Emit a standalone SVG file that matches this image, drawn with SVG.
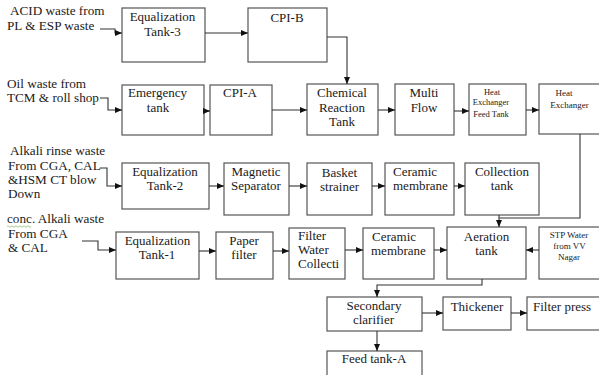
<svg xmlns="http://www.w3.org/2000/svg" width="599" height="375" viewBox="0 0 599 375">
<style>
text{font-family:'Liberation Serif','DejaVu Serif',serif}
.b{fill:#fff;stroke:#555;stroke-width:1.2}
.t{font-size:13px;fill:#1a1a1a;text-anchor:middle}
.l{font-size:13.2px;fill:#1a1a1a}
.la{text-anchor:start}
.s9{font-size:9px}
.s85{font-size:8.5px}
.c path{fill:none;stroke:#333;stroke-width:1.1;marker-end:url(#ah)}
</style>
<defs>
<marker id="ah" viewBox="0 0 7 6" refX="7" refY="3" markerWidth="7" markerHeight="6" markerUnits="userSpaceOnUse" orient="auto">
<path d="M0,0 L7,3 L0,6 z" fill="#111"/>
</marker>
</defs>
<rect width="599" height="375" fill="#fff"/>

<g id="sources">
<text class="l" x="10" y="15">ACID waste from</text>
<text class="l" x="7" y="30">PL &amp; ESP waste</text>
<text class="l" x="7" y="88">Oil waste from</text>
<text class="l" x="7" y="102">TCM &amp; roll shop</text>
<text class="l" x="10" y="155">Alkali rinse waste</text>
<text class="l" x="8" y="170">From CGA, CAL</text>
<text class="l" x="8" y="184">&amp;HSM CT blow</text>
<text class="l" x="8" y="198">Down</text>
<text class="l" x="7" y="223">conc. Alkali waste</text>
<path d="M7,226.5 q1,-1.5 2,0 t2,0 t2,0 t2,0 t2,0 t2,0 t2,0 t2,0 t2,0 t2,0 t2,0 t2,0" fill="none" stroke="#8fbf6a" stroke-width="0.8"/>
<text class="l" x="8" y="238">From CGA</text>
<text class="l" x="8" y="252">&amp; CAL</text>
</g>

<g id="eq3"><rect class="b" x="122" y="8" width="83" height="54"/><text class="t" x="162.5" y="21">Equalization</text><text class="t" x="162.5" y="36">Tank-3</text></g>
<g id="cpib"><rect class="b" x="248" y="8" width="79" height="54"/><text class="t" x="287" y="22">CPI-B</text></g>

<g id="emergency"><rect class="b" x="122" y="85" width="82" height="50"/><text class="t" x="157.5" y="97">Emergency</text><text class="t" x="158" y="112">tank</text></g>
<g id="cpia"><rect class="b" x="210" y="85" width="62" height="50"/><text class="t" x="240" y="97">CPI-A</text></g>
<g id="chem"><rect class="b" x="307" y="84" width="71" height="51"/><text class="t" x="342" y="97">Chemical</text><text class="t" x="342" y="112">Reaction</text><text class="t" x="342" y="126">Tank</text></g>
<g id="multi"><rect class="b" x="395" y="84" width="59" height="51"/><text class="t" x="424" y="97">Multi</text><text class="t" x="424" y="112">Flow</text></g>
<g id="hefeed"><rect class="b" x="469" y="84" width="57" height="51"/><text class="t s85" x="492" y="95">Heat</text><text class="t s85" x="491" y="105">Exchanger</text><text class="t s85" x="491" y="117">Feed Tank</text></g>
<g id="hex"><rect class="b" x="539" y="84" width="70" height="50"/><text class="t s9" x="564" y="96">Heat</text><text class="t s9" x="569.5" y="108">Exchanger</text></g>

<g id="eq2"><rect class="b" x="122" y="163" width="87" height="46"/><text class="t" x="165" y="176">Equalization</text><text class="t" x="165" y="190">Tank-2</text></g>
<g id="magnetic"><rect class="b" x="224" y="163" width="65" height="52"/><text class="t" x="256" y="176">Magnetic</text><text class="t" x="256" y="190">Separator</text></g>
<g id="basket"><rect class="b" x="307" y="163" width="65" height="52"/><text class="t" x="339.5" y="177">Basket</text><text class="t" x="339.5" y="191">strainer</text></g>
<g id="ceramic1"><rect class="b" x="385" y="163" width="69" height="52"/><text class="t la" x="393" y="176">Ceramic</text><text class="t la" x="393" y="190">membrane</text></g>
<g id="collection"><rect class="b" x="465" y="163" width="74" height="52"/><text class="t" x="502" y="176">Collection</text><text class="t" x="502" y="190">tank</text></g>

<g id="eq1"><rect class="b" x="116" y="232" width="83" height="47"/><text class="t" x="157.5" y="245">Equalization</text><text class="t" x="157" y="259">Tank-1</text></g>
<g id="paper"><rect class="b" x="216" y="232" width="57" height="47"/><text class="t" x="244" y="245">Paper</text><text class="t" x="244" y="259">filter</text></g>
<g id="fwc"><rect class="b" x="289" y="228" width="56" height="51"/><text class="t la" x="298" y="240">Filter</text><text class="t la" x="298" y="254">Water</text><text class="t la" x="298" y="268">Collecti</text></g>
<g id="ceramic2"><rect class="b" x="363" y="228" width="71" height="51"/><text class="t la" x="372" y="241">Ceramic</text><text class="t la" x="371" y="255">membrane</text></g>
<g id="aeration"><rect class="b" x="447" y="227" width="79" height="52"/><text class="t" x="486.5" y="241">Aeration</text><text class="t" x="486.5" y="255">tank</text></g>
<g id="stp"><rect class="b" x="539" y="227" width="70" height="52"/><text class="t s9" x="569" y="238">STP Water</text><text class="t s9" x="569.5" y="249">from VV</text><text class="t s9" x="569" y="260">Nagar</text></g>

<g id="clarifier"><rect class="b" x="327" y="297" width="95" height="34"/><text class="t" x="374" y="310">Secondary</text><text class="t" x="373.5" y="324">clarifier</text></g>
<g id="thickener"><rect class="b" x="443" y="297" width="68" height="33"/><text class="t" x="477" y="311">Thickener</text></g>
<g id="filterpress"><rect class="b" x="527" y="297" width="82" height="33"/><text class="t la" x="533" y="311">Filter press</text></g>
<g id="feedtank"><rect class="b" x="327" y="351" width="95" height="34"/><text class="t" x="374" y="363">Feed tank-A</text></g>

<g class="c" id="connectors">
<path d="M100,29 H115 V33 H122"/>
<path d="M205,33 H248"/>
<path d="M327,37 H347 V84"/>
<path d="M100,98 H108 V110 H122"/>
<path d="M204,111 H210"/>
<path d="M272,110 H307"/>
<path d="M378,110 H395"/>
<path d="M454,111 H469"/>
<path d="M526,110 H539"/>
<path d="M100,168 H107 V186 H122"/>
<path d="M209,186 H224"/>
<path d="M289,186 H307"/>
<path d="M372,186 H385"/>
<path d="M454,186 H465"/>
<path d="M82,241 H98 V250 H116"/>
<path d="M199,251 H216"/>
<path d="M273,251 H289"/>
<path d="M345,250 H363"/>
<path d="M434,250 H447"/>
<path d="M539,250 H526"/>
<path d="M499,215 V227"/>
<path d="M580,134 V218 H499" style="marker-end:none"/>
<path d="M482,279 V285 H377 V297"/>
<path d="M422,313 H443"/>
<path d="M511,313 H527"/>
<path d="M377,331 V351"/>
</g>
</svg>
